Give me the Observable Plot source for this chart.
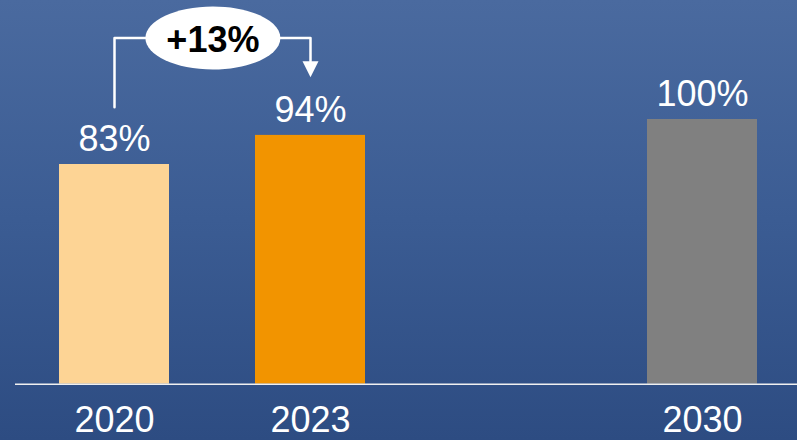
<!DOCTYPE html>
<html>
<head>
<meta charset="utf-8">
<script src="https://cdn.jsdelivr.net/npm/d3@7"></script>
<script src="https://cdn.jsdelivr.net/npm/@observablehq/plot@0.6"></script>
<style>
  html, body { margin: 0; padding: 0; }
  body { width: 797px; height: 440px; overflow: hidden;
         background: linear-gradient(to bottom, #4a6a9f 0%, #3b5c93 50%, #2d4c82 100%); }
</style>
</head>
<body>
<div id="chart"></div>
<script>
// Data
const years = ["2020", "2023", "2030"];
const values = [83, 94, 100];
const labels = ["83%", "94%", "100%"];
const barColors = ["#fdd495", "#f29400", "#808080"];
const slots = ["2020", "2023", "gap", "2030"];   // empty slot between 2023 and 2030
const changeLabel = "+13%";
// Annotation bracket (in data units)
const bracketYears = ["2020", "2020", "2023", "2023"];
const bracketValues = [104.6, 130.8, 130.8, 122];
const arrowTipValue = 116;

const bars = years.map((y, i) => ({year: y, value: values[i], label: labels[i], color: barColors[i]}));
const bracket = bracketYears.map((y, i) => ({year: y, value: bracketValues[i]}));

const ellipseSymbol = {
  draw(ctx) {
    const rx = 67.5, ry = 31.5, k = 0.5523;
    ctx.moveTo(rx, 0);
    ctx.bezierCurveTo(rx, k * ry, k * rx, ry, 0, ry);
    ctx.bezierCurveTo(-k * rx, ry, -rx, k * ry, -rx, 0);
    ctx.bezierCurveTo(-rx, -k * ry, -k * rx, -ry, 0, -ry);
    ctx.bezierCurveTo(k * rx, -ry, rx, -k * ry, rx, 0);
    ctx.closePath();
  }
};
const arrowSymbol = {
  draw(ctx) {
    ctx.moveTo(0, 0);
    ctx.lineTo(-8, -16);
    ctx.lineTo(8, -16);
    ctx.closePath();
  }
};

const plot = Plot.plot({
  width: 797,
  height: 440,
  marginTop: 0,
  marginLeft: 15,
  marginRight: 0,
  marginBottom: 56,
  style: {background: "none", fontFamily: "'Liberation Sans', Arial, sans-serif"},
  x: {domain: slots, range: [14.7, 801.5], paddingInner: 0.44, paddingOuter: 0.22, label: null},
  y: {domain: [0, 100], range: [383.7, 119], axis: null},
  marks: [
    Plot.barY(bars, {x: "year", y: "value", fill: "color"}),
    Plot.ruleY([0], {stroke: "#f0f0f0", strokeWidth: 1.6}),
    Plot.axisX({
      tickSize: 0, tickPadding: 22, fontSize: 36, color: "white",
      tickFormat: d => years.includes(d) ? d : "", label: null
    }),
    Plot.text(bars, {x: "year", y: "value", text: "label", dy: -13.5, lineAnchor: "bottom",
      fill: "white", fontSize: 36}),
    Plot.line(bracket, {x: "year", y: "value", stroke: "white", strokeWidth: 2.5, curve: "linear"}),
    Plot.dot([bracket[1]], {x: "year", y: "value", dx: 98.4, symbol: ellipseSymbol, fill: "white", stroke: null}),
    Plot.text([bracket[1]], {x: "year", y: "value", dx: 98.4, dy: 2, text: () => changeLabel,
      fontSize: 36, fontWeight: "bold", fill: "black", lineAnchor: "middle"}),
    Plot.dot([{year: "2023", value: arrowTipValue}], {x: "year", y: "value", symbol: arrowSymbol, fill: "white", stroke: null})
  ]
});
document.getElementById("chart").append(plot);
</script>
</body>
</html>
